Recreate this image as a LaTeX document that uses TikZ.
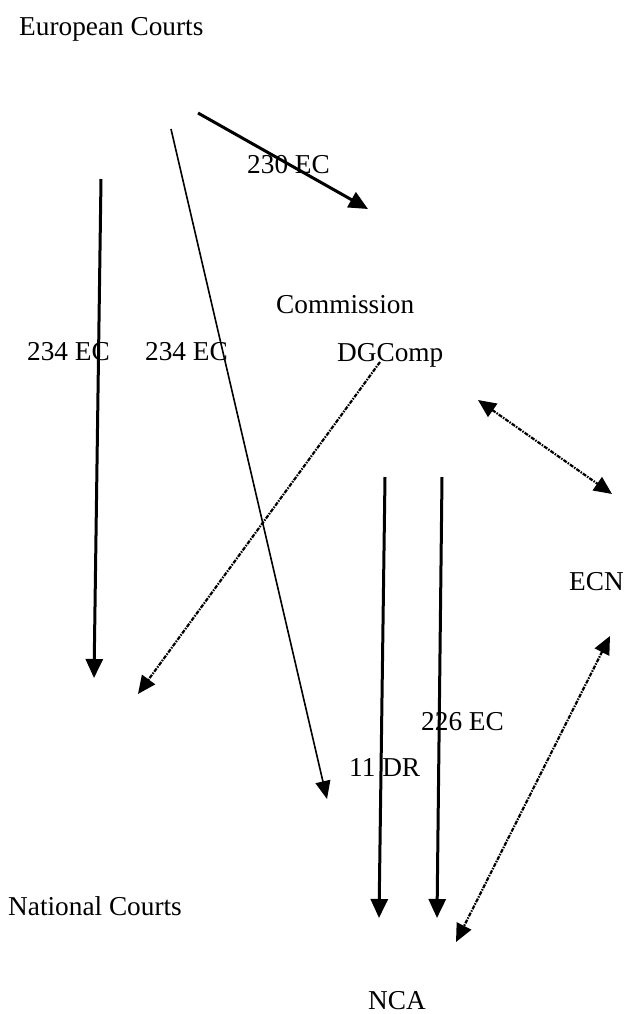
\documentclass[tikz,border=0pt]{standalone}
\usepackage{fontspec}
\setmainfont{Liberation Serif}
\usetikzlibrary{arrows.meta}
\pgfdeclarelayer{edgelayer}
\pgfdeclarelayer{nodelayer}
\pgfsetlayers{edgelayer,nodelayer,main}
\tikzstyle{body}=[anchor=base west, inner sep=0pt, font=\fontsize{27.4}{32}\selectfont]
\tikzstyle{strong}=[draw=black, line width=3bp, -{Triangle[length=19bp,width=17bp]}]
\tikzstyle{slim}=[draw=black, line width=1.6bp, -{Triangle[length=18bp,width=15bp]}]
\tikzstyle{link}=[draw=black, line width=2.2bp, dash pattern=on 4bp off 1.2bp on 1.5bp off 1.2bp]
\tikzstyle{oneway}=[style=link, -{Triangle[length=18bp,width=16bp]}]
\tikzstyle{twoway}=[style=link, {Triangle[length=18bp,width=16bp]}-{Triangle[length=18bp,width=16bp]}]

\begin{document}
\begin{tikzpicture}[x=1bp, y=-1bp]
				\useasboundingbox (0,0) rectangle (627,1014);
				\begin{pgfonlayer}{nodelayer}
					\node [style=body] (eu) at (19, 35) {European Courts};
					\node [style=body] (com) at (276, 313) {Commission};
					\node [style=body] (dg) at (337, 361) {DGComp};
					\node [style=body] (ecn) at (569, 590) {ECN};
					\node [style=body] (nat) at (8, 915) {National Courts};
					\node [style=body] (nca) at (368, 1009) {NCA};
					\node [style=body] (t230) at (247, 173) {230 EC};
					\node [style=body] (t234a) at (27, 360) {234 EC};
					\node [style=body] (t234b) at (145, 360) {234 EC};
					\node [style=body] (t226) at (421, 730) {226 EC};
					\node [style=body] (t11) at (349, 776) {11 DR};
					% arrow ends
					\coordinate (e1) at (198, 113);
					\coordinate (e2) at (368, 209);
					\coordinate (e3) at (101, 179);
					\coordinate (e4) at (94, 678);
					\coordinate (e5) at (171, 129);
					\coordinate (e6) at (327, 799);
					\coordinate (e7) at (380, 362);
					\coordinate (e8) at (138, 694);
					\coordinate (e9) at (478, 400);
					\coordinate (e10) at (612, 494);
					\coordinate (e11) at (610, 636);
					\coordinate (e12) at (456, 942);
					\coordinate (e13) at (385, 477);
					\coordinate (e14) at (379, 918);
					\coordinate (e15) at (442, 477);
					\coordinate (e16) at (437, 918);
				\end{pgfonlayer}
				\begin{pgfonlayer}{edgelayer}
					\draw [style=strong] (e1) to (e2);
					\draw [style=strong] (e3) to (e4);
					\draw [style=slim] (e5) to (e6);
					\draw [style=oneway] (e7) to (e8);
					\draw [style=twoway] (e9) to (e10);
					\draw [style=twoway] (e11) to (e12);
					\draw [style=strong] (e13) to (e14);
					\draw [style=strong] (e15) to (e16);
				\end{pgfonlayer}
			\end{tikzpicture}
\end{document}
